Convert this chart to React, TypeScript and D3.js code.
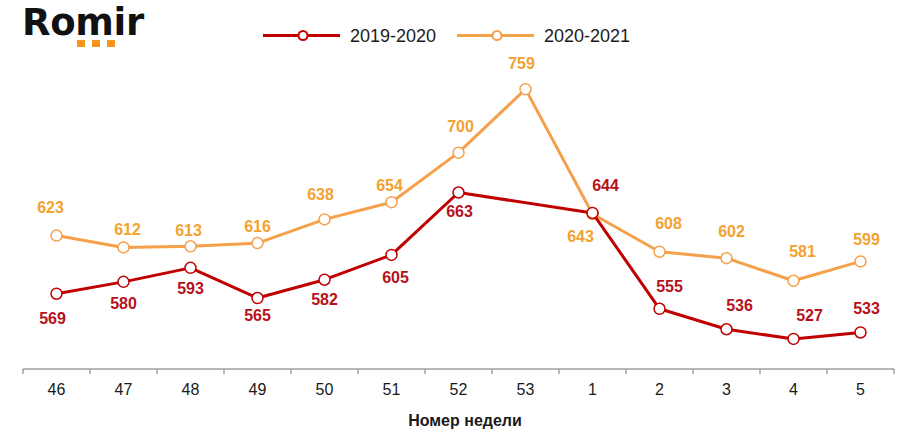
import * as d3 from "d3";

const weeks = ["46", "47", "48", "49", "50", "51", "52", "53", "1", "2", "3", "4", "5"];
const s2019: (number | null)[] = [569, 580, 593, 565, 582, 605, 663, null, 644, 555, 536, 527, 533];
const s2020: (number | null)[] = [623, 612, 613, 616, 638, 654, 700, 759, 643, 608, 602, 581, 599];

// manual label nudges (dx, dy from the point), like the hand-placed Excel labels
const off2019: [number, number][] = [[-4, 25], [0, 21], [0, 20], [0, 17], [0, 20], [4, 22], [1, 19], [0, 0], [13, -28], [10, -23], [13, -24], [16, -24], [6, -24]];
const off2020: [number, number][] = [[-6, -28], [4, -18], [-2, -16], [0, -17], [-4, -25], [-2, -17], [2, -26], [-4, -26], [-12, 22], [9, -28], [5, -27], [9, -30], [6, -22]];

const RED = "#C00000", RED_T = "#B5121B";
const ORG = "#F5A04A", ORG_T = "#F2A230";
const FONT = "'Liberation Sans', Arial, sans-serif";

type S = { name: string; vals: (number | null)[]; off: [number, number][]; line: string; text: string };
const series: S[] = [
  { name: "2020-2021", vals: s2020, off: off2020, line: ORG, text: ORG_T },
  { name: "2019-2020", vals: s2019, off: off2019, line: RED, text: RED_T },
];

export default function App() {
  const W = 900, H = 440;
  const x = d3.scaleBand().domain(weeks).range([23, 894]);
  const cx = (w: string) => (x(w) ?? 0) + x.bandwidth() / 2;
  const y = d3.scaleLinear().domain([500, 800]).range([368, 45]);

  const line = d3.line<{ w: string; v: number }>().x((d) => cx(d.w)).y((d) => y(d.v));

  return (
    <div style={{ position: "fixed", left: 0, top: 0 }}>
      <svg width={W} height={H} style={{ display: "block", background: "#fff" }} fontFamily={FONT}>
        {/* logo */}
        <text x={22} y={35} fontFamily="'DejaVu Sans', sans-serif" fontWeight="bold" fontSize={37} fill="#111" letterSpacing={-0.3}>Romir</text>
        {[77, 92, 107].map((sx) => (
          <rect key={sx} x={sx} y={40} width={8} height={7} fill="#F7941D" />
        ))}

        {/* legend */}
        {[
          { name: "2019-2020", c: RED, x0: 263 },
          { name: "2020-2021", c: ORG, x0: 457 },
        ].map((l) => (
          <g key={l.name}>
            <line x1={l.x0} x2={l.x0 + 77} y1={35.5} y2={35.5} stroke={l.c} strokeWidth={3} />
            <circle cx={l.x0 + 40} cy={35.5} r={4.5} fill="#fff" stroke={l.c} strokeWidth={2} />
            <text x={l.x0 + 87} y={42} fontSize={18} fill="#1a1a1a">{l.name}</text>
          </g>
        ))}

        {/* x axis */}
        <line x1={23} x2={894} y1={369} y2={369} stroke="#A0A0A0" strokeWidth={1.5} />
        {d3.range(weeks.length + 1).map((i) => (
          <line key={i} x1={23 + x.step() * i} x2={23 + x.step() * i} y1={369} y2={374} stroke="#A0A0A0" strokeWidth={1.5} />
        ))}
        {weeks.map((w) => (
          <text key={w} x={cx(w)} y={395} textAnchor="middle" fontSize={16} fill="#1a1a1a">{w}</text>
        ))}
        <text x={465} y={426} textAnchor="middle" fontSize={16} fontWeight="bold" fill="#1a1a1a">Номер недели</text>

        {/* series */}
        {series.map((s) => {
          const pts = weeks
            .map((w, i) => ({ w, v: s.vals[i], i }))
            .filter((d) => d.v != null) as { w: string; v: number; i: number }[];
          return (
            <g key={s.name}>
              <path d={line(pts) ?? ""} fill="none" stroke={s.line} strokeWidth={3} strokeLinejoin="round" />
              {pts.map((d) => (
                <circle key={d.w} cx={cx(d.w)} cy={y(d.v)} r={5.5} fill="#fff" stroke={s.line} strokeWidth={1.5} />
              ))}
              {pts.map((d) => (
                <text key={"t" + d.w} x={cx(d.w) + s.off[d.i][0]} y={y(d.v) + s.off[d.i][1]} dy="0.36em"
                  textAnchor="middle" fontSize={16} fontWeight="bold" fill={s.text}>{d.v}</text>
              ))}
            </g>
          );
        })}
      </svg>
    </div>
  );
}
